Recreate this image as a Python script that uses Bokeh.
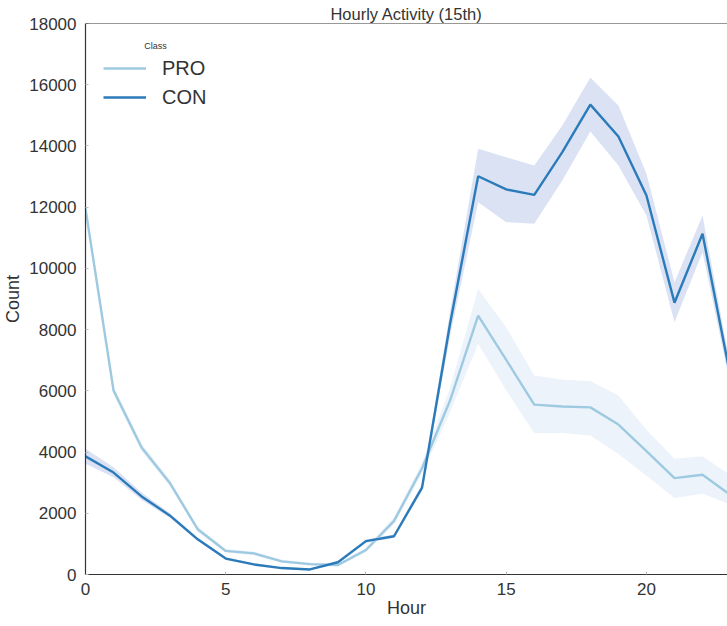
import math
from bokeh.plotting import figure
from bokeh.models import (Range1d, FixedTicker, Label, Legend, LegendItem, Span,
                          ColumnDataSource)
from bokeh.embed import file_html
from bokeh.resources import INLINE

# ---- data ----
hours = list(range(24))

pro_mean = [11950, 6010, 4150, 3000, 1480, 770, 690, 430, 340, 310, 800, 1750,
            3470, 5690, 8460, 7010, 5550, 5490, 5460, 4900, 4030, 3150, 3260, 2590]
pro_upper = [12150, 6150, 4280, 3100, 1560, 830, 750, 480, 390, 360, 880, 1870,
             3650, 6100, 9330, 8080, 6500, 6360, 6320, 5850, 4730, 3780, 3860, 3240]
pro_lower = [11750, 5870, 4020, 2900, 1400, 710, 630, 380, 290, 260, 720, 1630,
             3300, 5300, 7540, 6010, 4620, 4620, 4540, 3940, 3230, 2500, 2640, 2280]

con_mean = [3860, 3330, 2550, 1930, 1150, 520, 330, 210, 165, 400, 1090, 1250,
            2840, 8200, 13010, 12580, 12400, 13800, 15350, 14310, 12380, 8880, 11130, 6450]
con_upper = [4110, 3500, 2680, 2010, 1200, 560, 370, 240, 195, 440, 1140, 1310,
             2950, 8600, 13910, 13630, 13360, 14670, 16240, 15320, 13090, 9550, 11730, 6750]
con_lower = [3620, 3180, 2430, 1860, 1100, 480, 290, 180, 135, 360, 1040, 1190,
             2730, 7800, 12160, 11510, 11460, 12870, 14470, 13360, 11730, 8240, 10530, 6150]

classes = ["PRO", "CON"]
x_ticks = [0, 5, 10, 15, 20]
y_ticks = list(range(0, 18001, 2000))
title_text = "Hourly Activity (15th)"
x_label = "Hour"
y_label = "Count"
legend_title = "Class"

# ---- style ----
FONT = "Liberation Sans"
TXT = "#333333"
PRO_C = "#9ecae1"
CON_C = "#2b7bba"
PRO_BAND = "#edf3fb"
CON_BAND = "#dbe2f4"

src = ColumnDataSource(dict(h=hours, pm=pro_mean, pu=pro_upper, pl=pro_lower,
                            cm=con_mean, cu=con_upper, cl=con_lower))

p = figure(width=727, height=622, x_range=Range1d(0, 22.89), y_range=Range1d(0, 18000),
           output_backend="svg", toolbar_location=None, title=title_text,
           min_border_left=85, min_border_right=0, min_border_top=23, min_border_bottom=48)
p.outline_line_color = None
p.grid.visible = False
p.background_fill_color = "white"

p.title.align = "center"
p.title.text_font = FONT
p.title.text_font_size = "16.5px"
p.title.text_font_style = "normal"
p.title.text_color = TXT
p.title.standoff = 2
p.title.offset = 0

p.varea(x="h", y1="pl", y2="pu", source=src, fill_color=PRO_BAND)
r_pro = p.line(x="h", y="pm", source=src, line_color=PRO_C, line_width=2.4)
p.varea(x="h", y1="cl", y2="cu", source=src, fill_color=CON_BAND)
r_con = p.line(x="h", y="cm", source=src, line_color=CON_C, line_width=2.4)

for ax in (p.xaxis[0], p.yaxis[0]):
    ax.axis_line_color = "#333333"
    ax.axis_line_width = 1.2
    ax.major_tick_in = 3
    ax.major_tick_out = 0
    ax.major_tick_line_color = "#bbbbbb"
    ax.minor_tick_line_color = None
    ax.major_label_text_font = FONT
    ax.major_label_text_font_size = "17px"
    ax.major_label_text_color = TXT
    ax.axis_label_text_font = FONT
    ax.axis_label_text_font_size = "18px"
    ax.axis_label_text_font_style = "normal"
    ax.axis_label_text_color = TXT

p.xaxis[0].ticker = FixedTicker(ticks=x_ticks)
p.yaxis[0].ticker = FixedTicker(ticks=y_ticks)
p.xaxis[0].major_label_standoff = 8
p.yaxis[0].major_label_standoff = 9
p.xaxis[0].axis_label = x_label
p.yaxis[0].axis_label = y_label
p.xaxis[0].axis_label_standoff = 0
p.yaxis[0].axis_label_standoff = 3

# top spine
p.add_layout(Span(location=18000, dimension="width", line_color="#333333", line_width=1.2))

p.add_layout(Label(x=2.5, y=18000, y_offset=-22, text=legend_title, text_align="center",
                   text_baseline="middle", text_font=FONT, text_font_size="9px",
                   text_color=TXT))

legend = Legend(items=[LegendItem(label=classes[0], renderers=[r_pro]),
                       LegendItem(label=classes[1], renderers=[r_con])],
                location=(18, 465), padding=0, margin=0, spacing=5,
                label_height=24, glyph_height=24, glyph_width=43, label_standoff=16,
                border_line_color=None, background_fill_alpha=0,
                label_text_font=FONT, label_text_font_size="20px", label_text_color=TXT)
p.add_layout(legend)

open("out.html", "w").write(file_html(p, INLINE))
